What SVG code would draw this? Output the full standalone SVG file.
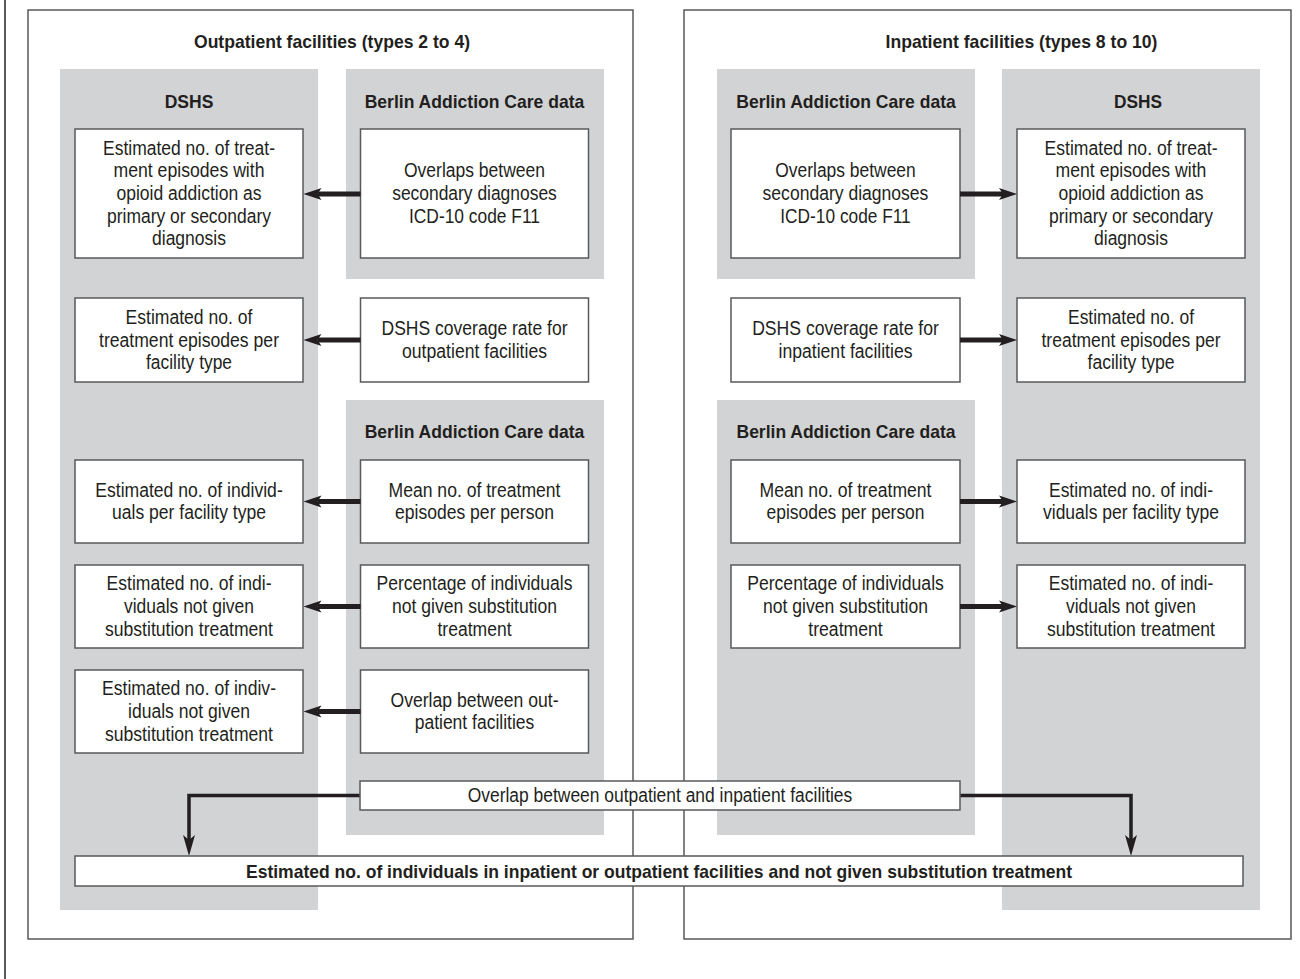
<svg xmlns="http://www.w3.org/2000/svg" width="1300" height="979" viewBox="0 0 1300 979">
<style>
.frame{fill:none;stroke:#58595b;stroke-width:1.5}
.panel{fill:#d1d3d4}
.box{fill:#fff;stroke:#58595b;stroke-width:1.5}
text{font-family:"Liberation Sans",Arial,sans-serif;font-size:19.5px;fill:#231f20;text-anchor:middle}
.b{font-weight:bold;font-size:19px}
.arr{fill:none;stroke:#231f20;stroke-width:5;marker-end:url(#ah)}
.conn{fill:none;stroke:#231f20;stroke-width:3.5;marker-end:url(#dh)}
</style>
<defs>
<marker id="ah" markerUnits="userSpaceOnUse" viewBox="0 -7 20 14" markerWidth="20" markerHeight="14" refX="4" refY="0" orient="auto">
<path d="M0,-6 L18,0 L0,6 L4,0 Z" fill="#231f20"/>
</marker>
<marker id="dh" markerUnits="userSpaceOnUse" viewBox="0 -7 22 14" markerWidth="22" markerHeight="14" refX="5" refY="0" orient="auto">
<path d="M0,-6 L21,0 L0,6 L5,0 Z" fill="#231f20"/>
</marker>
</defs>
<rect width="1300" height="979" fill="#fff"/>
<line x1="5" y1="0" x2="5" y2="979" stroke="#58595b" stroke-width="2"/>

<g id="outpatient-frame">
<rect class="frame" x="28" y="10" width="605" height="929"/>
<text class="b" x="332" y="48" textLength="276" lengthAdjust="spacingAndGlyphs">Outpatient facilities (types 2 to 4)</text>
</g>
<g id="inpatient-frame">
<rect class="frame" x="684" y="10" width="607" height="929"/>
<text class="b" x="1021.5" y="48" textLength="272" lengthAdjust="spacingAndGlyphs">Inpatient facilities (types 8 to 10)</text>
</g>

<g id="out-dshs-panel">
<rect class="panel" x="60" y="69" width="258" height="841"/>
<text class="b" x="189" y="107.5" textLength="48.7" lengthAdjust="spacingAndGlyphs">DSHS</text>
</g>
<g id="out-berlin-panel-1">
<rect class="panel" x="346" y="69" width="258" height="210"/>
<text class="b" x="474.5" y="107.5" textLength="219.6" lengthAdjust="spacingAndGlyphs">Berlin Addiction Care data</text>
</g>
<g id="out-berlin-panel-2">
<rect class="panel" x="346" y="400" width="258" height="435"/>
<text class="b" x="474.5" y="437.5" textLength="219.6" lengthAdjust="spacingAndGlyphs">Berlin Addiction Care data</text>
</g>
<g id="in-berlin-panel-1">
<rect class="panel" x="717" y="69" width="258" height="210"/>
<text class="b" x="846" y="107.5" textLength="219.5" lengthAdjust="spacingAndGlyphs">Berlin Addiction Care data</text>
</g>
<g id="in-berlin-panel-2">
<rect class="panel" x="717" y="400" width="258" height="435"/>
<text class="b" x="846" y="437.5" textLength="219" lengthAdjust="spacingAndGlyphs">Berlin Addiction Care data</text>
</g>
<g id="in-dshs-panel">
<rect class="panel" x="1002" y="69" width="258" height="841"/>
<text class="b" x="1138" y="107.5" textLength="48" lengthAdjust="spacingAndGlyphs">DSHS</text>
</g>

<!-- Outpatient boxes -->
<g id="o-est-episodes">
<rect class="box" x="75" y="129" width="228" height="129"/>
<text x="189" y="154.8" textLength="172" lengthAdjust="spacingAndGlyphs">Estimated no. of treat-</text>
<text x="189" y="177.4" textLength="151" lengthAdjust="spacingAndGlyphs">ment episodes with</text>
<text x="189" y="200" textLength="145" lengthAdjust="spacingAndGlyphs">opioid addiction as</text>
<text x="189" y="222.6" textLength="164" lengthAdjust="spacingAndGlyphs">primary or secondary</text>
<text x="189" y="245.2" textLength="74" lengthAdjust="spacingAndGlyphs">diagnosis</text>
</g>
<g id="o-overlaps-f11">
<rect class="box" x="360.5" y="129" width="228" height="129"/>
<text x="474.5" y="177.4" textLength="141" lengthAdjust="spacingAndGlyphs">Overlaps between</text>
<text x="474.5" y="200" textLength="164.6" lengthAdjust="spacingAndGlyphs">secondary diagnoses</text>
<text x="474.5" y="222.6" textLength="131" lengthAdjust="spacingAndGlyphs">ICD-10 code F11</text>
</g>
<g id="o-est-per-type">
<rect class="box" x="75" y="298" width="228" height="84"/>
<text x="189" y="323.9" textLength="127" lengthAdjust="spacingAndGlyphs">Estimated no. of</text>
<text x="189" y="346.5" textLength="180" lengthAdjust="spacingAndGlyphs">treatment episodes per</text>
<text x="189" y="369.1" textLength="86" lengthAdjust="spacingAndGlyphs">facility type</text>
</g>
<g id="o-coverage">
<rect class="box" x="360.5" y="298" width="228" height="84"/>
<text x="474.5" y="335.2" textLength="186" lengthAdjust="spacingAndGlyphs">DSHS coverage rate for</text>
<text x="474.5" y="357.8" textLength="145" lengthAdjust="spacingAndGlyphs">outpatient facilities</text>
</g>
<g id="o-est-individuals">
<rect class="box" x="75" y="460" width="228" height="83"/>
<text x="189" y="496.7" textLength="187.5" lengthAdjust="spacingAndGlyphs">Estimated no. of individ-</text>
<text x="189" y="519.3" textLength="154" lengthAdjust="spacingAndGlyphs">uals per facility type</text>
</g>
<g id="o-mean-episodes">
<rect class="box" x="360.5" y="460" width="228" height="83"/>
<text x="474.5" y="496.7" textLength="172" lengthAdjust="spacingAndGlyphs">Mean no. of treatment</text>
<text x="474.5" y="519.3" textLength="159" lengthAdjust="spacingAndGlyphs">episodes per person</text>
</g>
<g id="o-est-not-subst">
<rect class="box" x="75" y="565" width="228" height="83"/>
<text x="189" y="590.4" textLength="165" lengthAdjust="spacingAndGlyphs">Estimated no. of indi-</text>
<text x="189" y="613" textLength="130" lengthAdjust="spacingAndGlyphs">viduals not given</text>
<text x="189" y="635.6" textLength="168" lengthAdjust="spacingAndGlyphs">substitution treatment</text>
</g>
<g id="o-pct-not-subst">
<rect class="box" x="360.5" y="565" width="228" height="83"/>
<text x="474.5" y="590.4" textLength="196" lengthAdjust="spacingAndGlyphs">Percentage of individuals</text>
<text x="474.5" y="613" textLength="165" lengthAdjust="spacingAndGlyphs">not given substitution</text>
<text x="474.5" y="635.6" textLength="74" lengthAdjust="spacingAndGlyphs">treatment</text>
</g>
<g id="o-est-not-subst-2">
<rect class="box" x="75" y="670" width="228" height="83"/>
<text x="189" y="695.4" textLength="174" lengthAdjust="spacingAndGlyphs">Estimated no. of indiv-</text>
<text x="189" y="718" textLength="122" lengthAdjust="spacingAndGlyphs">iduals not given</text>
<text x="189" y="740.6" textLength="168" lengthAdjust="spacingAndGlyphs">substitution treatment</text>
</g>
<g id="o-overlap-out">
<rect class="box" x="360.5" y="670" width="228" height="83"/>
<text x="474.5" y="706.7" textLength="168" lengthAdjust="spacingAndGlyphs">Overlap between out-</text>
<text x="474.5" y="729.3" textLength="119.6" lengthAdjust="spacingAndGlyphs">patient facilities</text>
</g>

<!-- Inpatient boxes -->
<g id="i-overlaps-f11">
<rect class="box" x="731" y="129" width="229" height="129"/>
<text x="845.5" y="177.4" textLength="140.4" lengthAdjust="spacingAndGlyphs">Overlaps between</text>
<text x="845.5" y="200" textLength="165.8" lengthAdjust="spacingAndGlyphs">secondary diagnoses</text>
<text x="845.5" y="222.6" textLength="130.4" lengthAdjust="spacingAndGlyphs">ICD-10 code F11</text>
</g>
<g id="i-est-episodes">
<rect class="box" x="1017" y="129" width="228" height="129"/>
<text x="1131" y="154.8" textLength="173" lengthAdjust="spacingAndGlyphs">Estimated no. of treat-</text>
<text x="1131" y="177.4" textLength="150.8" lengthAdjust="spacingAndGlyphs">ment episodes with</text>
<text x="1131" y="200" textLength="145" lengthAdjust="spacingAndGlyphs">opioid addiction as</text>
<text x="1131" y="222.6" textLength="163.8" lengthAdjust="spacingAndGlyphs">primary or secondary</text>
<text x="1131" y="245.2" textLength="74" lengthAdjust="spacingAndGlyphs">diagnosis</text>
</g>
<g id="i-coverage">
<rect class="box" x="731" y="298" width="229" height="84"/>
<text x="845.5" y="335.2" textLength="186.7" lengthAdjust="spacingAndGlyphs">DSHS coverage rate for</text>
<text x="845.5" y="357.8" textLength="134" lengthAdjust="spacingAndGlyphs">inpatient facilities</text>
</g>
<g id="i-est-per-type">
<rect class="box" x="1017" y="298" width="228" height="84"/>
<text x="1131" y="323.9" textLength="126" lengthAdjust="spacingAndGlyphs">Estimated no. of</text>
<text x="1131" y="346.5" textLength="179" lengthAdjust="spacingAndGlyphs">treatment episodes per</text>
<text x="1131" y="369.1" textLength="87" lengthAdjust="spacingAndGlyphs">facility type</text>
</g>
<g id="i-mean-episodes">
<rect class="box" x="731" y="460" width="229" height="83"/>
<text x="845.5" y="496.7" textLength="172" lengthAdjust="spacingAndGlyphs">Mean no. of treatment</text>
<text x="845.5" y="519.3" textLength="158" lengthAdjust="spacingAndGlyphs">episodes per person</text>
</g>
<g id="i-est-individuals">
<rect class="box" x="1017" y="460" width="228" height="83"/>
<text x="1131" y="496.7" textLength="164" lengthAdjust="spacingAndGlyphs">Estimated no. of indi-</text>
<text x="1131" y="519.3" textLength="176" lengthAdjust="spacingAndGlyphs">viduals per facility type</text>
</g>
<g id="i-pct-not-subst">
<rect class="box" x="731" y="565" width="229" height="83"/>
<text x="845.5" y="590.4" textLength="196.7" lengthAdjust="spacingAndGlyphs">Percentage of individuals</text>
<text x="845.5" y="613" textLength="165" lengthAdjust="spacingAndGlyphs">not given substitution</text>
<text x="845.5" y="635.6" textLength="74.5" lengthAdjust="spacingAndGlyphs">treatment</text>
</g>
<g id="i-est-not-subst">
<rect class="box" x="1017" y="565" width="228" height="83"/>
<text x="1131" y="590.4" textLength="164.6" lengthAdjust="spacingAndGlyphs">Estimated no. of indi-</text>
<text x="1131" y="613" textLength="130" lengthAdjust="spacingAndGlyphs">viduals not given</text>
<text x="1131" y="635.6" textLength="168" lengthAdjust="spacingAndGlyphs">substitution treatment</text>
</g>

<!-- Connectors -->
<g id="connectors">
<line class="arr" x1="360.5" y1="194" x2="317.5" y2="194"/>
<line class="arr" x1="360.5" y1="340" x2="317.5" y2="340"/>
<line class="arr" x1="360.5" y1="501.5" x2="317.5" y2="501.5"/>
<line class="arr" x1="360.5" y1="606.5" x2="317.5" y2="606.5"/>
<line class="arr" x1="360.5" y1="711.5" x2="317.5" y2="711.5"/>
<line class="arr" x1="960" y1="194" x2="1003" y2="194"/>
<line class="arr" x1="960" y1="340" x2="1003" y2="340"/>
<line class="arr" x1="960" y1="501.5" x2="1003" y2="501.5"/>
<line class="arr" x1="960" y1="606.5" x2="1003" y2="606.5"/>
<path class="conn" d="M360,795.5 H189 V840"/>
<path class="conn" d="M960,795.5 H1131 V840"/>
</g>

<g id="overlap-out-in">
<rect class="box" x="360" y="781" width="600" height="29"/>
<text x="660" y="802" textLength="384.5" lengthAdjust="spacingAndGlyphs">Overlap between outpatient and inpatient facilities</text>
</g>
<g id="total-estimate">
<rect class="box" x="75" y="856" width="1168" height="30"/>
<text class="b" x="659" y="877.5" textLength="826" lengthAdjust="spacingAndGlyphs">Estimated no. of individuals in inpatient or outpatient facilities and not given substitution treatment</text>
</g>
</svg>
